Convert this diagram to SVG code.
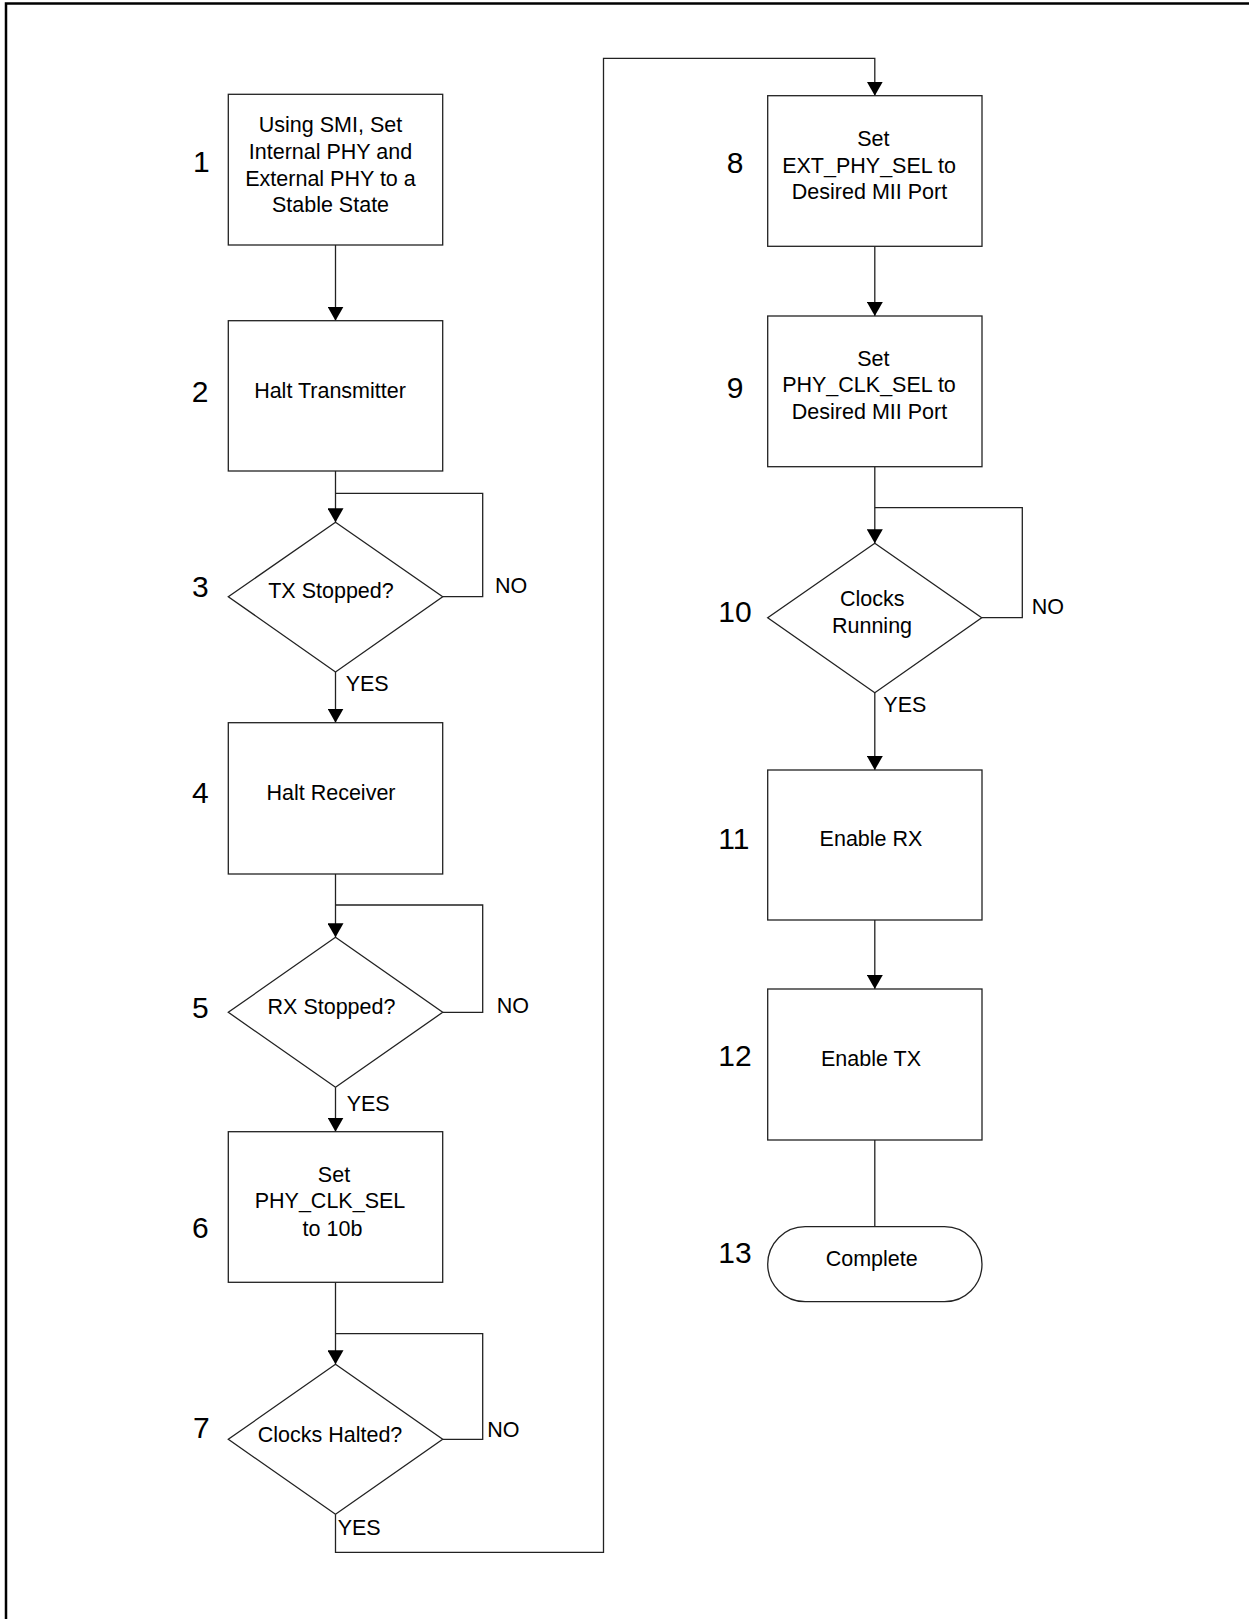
<svg xmlns="http://www.w3.org/2000/svg" width="1249" height="1619" viewBox="0 0 1249 1619">
<style>
.n{fill:#fff;stroke:#222;stroke-width:1.3}
.c{fill:none;stroke:#222;stroke-width:1.3}
.t{font-family:"Liberation Sans",Arial,sans-serif;font-size:21.5px;fill:#000;text-anchor:middle}
.num{font-family:"Liberation Sans",Arial,sans-serif;font-size:30px;fill:#000}
.lbl{font-family:"Liberation Sans",Arial,sans-serif;font-size:21.5px;fill:#000}
</style>
<defs>
<marker id="ah" markerUnits="userSpaceOnUse" viewBox="0 0 14 16" refX="14" refY="8" markerWidth="14" markerHeight="16" orient="auto">
<path d="M0,0 L14,8 L0,16 z" fill="#000"/>
</marker>
</defs>
<rect width="1249" height="1619" fill="#fff"/>
<path d="M6,1619 V3.5 H1249" fill="none" stroke="#000" stroke-width="2.5"/>

<g id="connectors">
<path class="c" d="M335.5,245 V320.7" marker-end="url(#ah)"/>
<path class="c" d="M335.5,471 V522.3" marker-end="url(#ah)"/>
<path class="c" d="M442.7,596.7 H482.7 V493.3 H335.5"/>
<path class="c" d="M335.5,672 V722.7" marker-end="url(#ah)"/>
<path class="c" d="M335.5,874 V937.3" marker-end="url(#ah)"/>
<path class="c" d="M442.7,1012.3 H482.7 V905 H335.5"/>
<path class="c" d="M335.5,1087.3 V1131.7" marker-end="url(#ah)"/>
<path class="c" d="M335.5,1282.3 V1364.3" marker-end="url(#ah)"/>
<path class="c" d="M442.7,1439.3 H482.7 V1333.7 H335.5"/>
<path class="c" d="M335.5,1514.3 V1552.3 H603.5 V58.3 H874.8 V95.7" marker-end="url(#ah)"/>
<path class="c" d="M874.8,246.3 V316" marker-end="url(#ah)"/>
<path class="c" d="M874.8,466.7 V543.3" marker-end="url(#ah)"/>
<path class="c" d="M981.7,617.7 H1022.3 V507.7 H874.8"/>
<path class="c" d="M874.8,692.7 V770" marker-end="url(#ah)"/>
<path class="c" d="M874.8,920 V989" marker-end="url(#ah)"/>
<path class="c" d="M874.8,1140 V1226.7"/>
<text class="lbl" x="495" y="593.3">NO</text>
<text class="lbl" x="345.7" y="690.7">YES</text>
<text class="lbl" x="496.7" y="1013.3">NO</text>
<text class="lbl" x="346.7" y="1110.7">YES</text>
<text class="lbl" x="487.3" y="1436.7">NO</text>
<text class="lbl" x="337.7" y="1535">YES</text>
<text class="lbl" x="1031.7" y="614.3">NO</text>
<text class="lbl" x="883.3" y="711.7">YES</text>
</g>

<g id="node1">
<rect class="n" x="228.3" y="94.3" width="214.4" height="150.7"/>
<text class="t" x="330.5" y="132.3">Using SMI, Set</text>
<text class="t" x="330.5" y="158.8">Internal PHY and</text>
<text class="t" x="330.5" y="185.5">External PHY to a</text>
<text class="t" x="330.5" y="212">Stable State</text>
<text class="num" x="193" y="172.3">1</text>
</g>
<g id="node2">
<rect class="n" x="228.3" y="320.7" width="214.4" height="150.3"/>
<text class="t" x="330" y="398.3">Halt Transmitter</text>
<text class="num" x="191.7" y="401.7">2</text>
</g>
<g id="node3">
<polygon class="n" points="335.5,522.3 442.7,596.7 335.5,672 228.3,596.7"/>
<text class="t" x="331" y="598.3">TX Stopped?</text>
<text class="num" x="192" y="596.7">3</text>
</g>
<g id="node4">
<rect class="n" x="228.3" y="722.7" width="214.4" height="151.3"/>
<text class="t" x="331" y="800">Halt Receiver</text>
<text class="num" x="192" y="803.3">4</text>
</g>
<g id="node5">
<polygon class="n" points="335.5,937.3 442.7,1012.3 335.5,1087.3 228.3,1012.3"/>
<text class="t" x="331.5" y="1014">RX Stopped?</text>
<text class="num" x="192" y="1017.7">5</text>
</g>
<g id="node6">
<rect class="n" x="228.3" y="1131.7" width="214.4" height="150.6"/>
<text class="t" x="334" y="1181.7">Set</text>
<text class="t" x="330" y="1208.3">PHY_CLK_SEL</text>
<text class="t" x="332.5" y="1235.7">to 10b</text>
<text class="num" x="192" y="1237.7">6</text>
</g>
<g id="node7">
<polygon class="n" points="335.5,1364.3 442.7,1439.3 335.5,1514.3 228.3,1439.3"/>
<text class="t" x="330" y="1441.7">Clocks Halted?</text>
<text class="num" x="193" y="1438.3">7</text>
</g>
<g id="node8">
<rect class="n" x="767.7" y="95.7" width="214.3" height="150.6"/>
<text class="t" x="873.3" y="146">Set</text>
<text class="t" x="869" y="172.7">EXT_PHY_SEL to</text>
<text class="t" x="869.5" y="199.3">Desired MII Port</text>
<text class="num" x="726.7" y="173.3">8</text>
</g>
<g id="node9">
<rect class="n" x="767.7" y="316" width="214.3" height="150.7"/>
<text class="t" x="873.3" y="366">Set</text>
<text class="t" x="869" y="392.3">PHY_CLK_SEL to</text>
<text class="t" x="869.5" y="419.3">Desired MII Port</text>
<text class="num" x="726.7" y="398.3">9</text>
</g>
<g id="node10">
<polygon class="n" points="874.8,543.3 981.7,617.7 874.8,692.7 767.7,617.7"/>
<text class="t" x="872.3" y="605.7">Clocks</text>
<text class="t" x="872" y="633.3">Running</text>
<text class="num" x="718.3" y="621.7">10</text>
</g>
<g id="node11">
<rect class="n" x="767.7" y="770" width="214.3" height="150"/>
<text class="t" x="871" y="846">Enable RX</text>
<text class="num" x="718.3" y="849">11</text>
</g>
<g id="node12">
<rect class="n" x="767.7" y="989" width="214.3" height="151"/>
<text class="t" x="871" y="1066">Enable TX</text>
<text class="num" x="718.3" y="1066">12</text>
</g>
<g id="node13">
<rect class="n" x="767.7" y="1226.7" width="214.3" height="75" rx="37.5" ry="37.5"/>
<text class="t" x="871.7" y="1265.7">Complete</text>
<text class="num" x="718.3" y="1263.3">13</text>
</g>
</svg>
